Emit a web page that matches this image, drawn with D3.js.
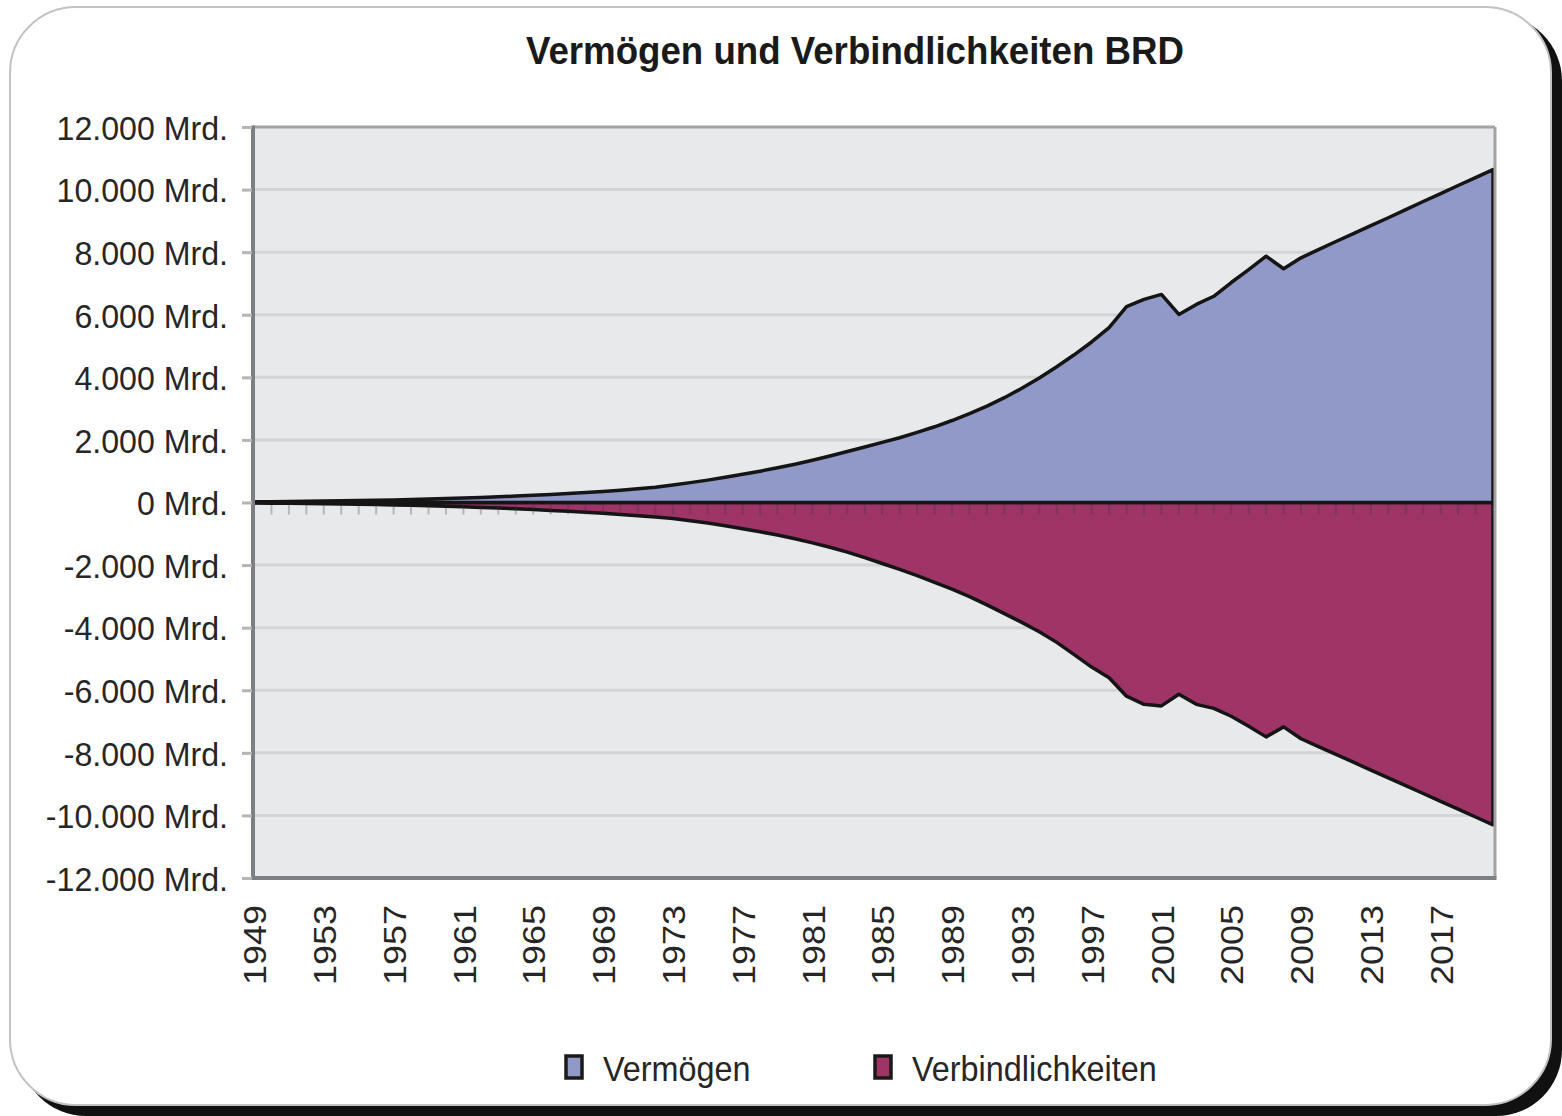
<!DOCTYPE html>
<html>
<head>
<meta charset="utf-8">
<script src="https://cdn.jsdelivr.net/npm/d3@7"></script>
<style>
  html, body { margin: 0; padding: 0; background: #ffffff; }
  svg { display: block; }
  text { font-family: "Liberation Sans", Arial, sans-serif; }
</style>
</head>
<body>
<svg id="chart" width="1562" height="1116"></svg>
<script>
// ---------------- DATA ----------------
const title = "Vermögen und Verbindlichkeiten BRD";
const seriesNames = ["Vermögen", "Verbindlichkeiten"];
const years = [1949,1950,1951,1952,1953,1954,1955,1956,1957,1958,1959,1960,1961,1962,1963,1964,1965,1966,1967,1968,1969,
  1970,1971,1972,1973,1974,1975,1976,1977,1978,1979,1980,1981,1982,1983,1984,1985,1986,1987,1988,1989,
  1990,1991,1992,1993,1994,1995,1996,1997,1998,1999,2000,2001,2002,2003,2004,2005,2006,2007,2008,2009,
  2010,2011,2012,2013,2014,2015,2016,2017,2018,2019,2020];
const vermoegen = [20,25,31,37,44,52,61,71,82,95,109,124,141,160,181,204,229,256,286,318,354,
  395,440,490,560,635,715,805,900,1000,1110,1225,1350,1485,1630,1775,1920,2070,2240,2420,2620,
  2840,3080,3350,3650,3980,4340,4720,5130,5590,6260,6490,6650,6010,6330,6590,7030,7440,7870,7470,7820,
  8080,8340,8590,8850,9100,9360,9620,9870,10130,10380,10640];
const verbindlichkeiten = [-18,-22,-27,-33,-40,-48,-57,-67,-78,-91,-105,-120,-137,-156,-177,-200,-225,-252,-281,-312,-345,
  -380,-420,-460,-515,-580,-655,-745,-840,-935,-1040,-1160,-1290,-1430,-1585,-1760,-1950,-2140,-2340,-2550,-2770,
  -3010,-3270,-3550,-3830,-4130,-4470,-4860,-5260,-5600,-6190,-6450,-6500,-6130,-6450,-6580,-6830,-7150,-7490,-7170,-7550,
  -7800,-8050,-8300,-8550,-8800,-9050,-9300,-9550,-9800,-10050,-10300];
const yTicks = [-12000,-10000,-8000,-6000,-4000,-2000,0,2000,4000,6000,8000,10000,12000];
const xLabelYears = [1949,1953,1957,1961,1965,1969,1973,1977,1981,1985,1989,1993,1997,2001,2005,2009,2013,2017];

// ---------------- LAYOUT ----------------
const plot = { left: 253, right: 1495, top: 127, bottom: 878 };
const colors = { verm: "#9199c8", verb: "#9e3566", bg: "#e8e9eb", grid: "#d3d4d6" };

const svg = d3.select("#chart");

// frame with shadow
svg.append("rect").attr("x", 20).attr("y", 15).attr("width", 1542).attr("height", 1101)
  .attr("rx", 66).attr("ry", 66).attr("fill", "#111");
svg.append("rect").attr("x", 10).attr("y", 7).attr("width", 1541).attr("height", 1098)
  .attr("rx", 66).attr("ry", 66).attr("fill", "#ffffff").attr("stroke", "#c2c2c2").attr("stroke-width", 2);

const x = d3.scalePoint().domain(years).range([plot.left + 1, plot.right - 2]);
const y = d3.scaleLinear().domain([-12000, 12000]).range([plot.bottom, plot.top]);

const de = d3.formatLocale({ decimal: ",", thousands: ".", grouping: [3], currency: ["", " €"], minus: "-" });
const fmt = de.format(",");

function squeeze(sel, k) {
  sel.each(function () {
    const n = this.getComputedTextLength();
    d3.select(this).attr("textLength", n * k).attr("lengthAdjust", "spacingAndGlyphs");
  });
}

// title
const t = svg.append("text").attr("x", 855).attr("y", 64).attr("text-anchor", "middle")
  .attr("font-size", 39).attr("font-weight", "bold").attr("fill", "#1a1a1a").text(title);
squeeze(t, 0.94);

// plot background
svg.append("rect").attr("x", plot.left).attr("y", plot.top)
  .attr("width", plot.right - plot.left).attr("height", plot.bottom - plot.top).attr("fill", colors.bg);

// gridlines
svg.append("g").selectAll("line").data(yTicks.filter(d => d !== 12000 && d !== -12000 && d !== 0)).join("line")
  .attr("x1", plot.left).attr("x2", plot.right)
  .attr("y1", d => y(d)).attr("y2", d => y(d))
  .attr("stroke", colors.grid).attr("stroke-width", 3);

// areas
const areaGen = d3.area().x((d, i) => x(years[i])).y0(y(0)).y1(d => y(d));

svg.append("path").attr("d", areaGen(verbindlichkeiten)).attr("fill", colors.verb)
  .attr("stroke", "#151515").attr("stroke-width", 3.5).attr("stroke-linejoin", "round");
svg.append("path").attr("d", areaGen(vermoegen)).attr("fill", colors.verm)
  .attr("stroke", "#151515").attr("stroke-width", 3.5).attr("stroke-linejoin", "round");

// zero axis line
svg.append("line").attr("x1", plot.left).attr("x2", plot.right).attr("y1", y(0)).attr("y2", y(0))
  .attr("stroke", "#151515").attr("stroke-width", 3);

// category ticks
svg.append("g").selectAll("line").data(years).join("line")
  .attr("x1", d => x(d)).attr("x2", d => x(d))
  .attr("y1", y(0) + 2).attr("y2", y(0) + 12)
  .attr("stroke", "rgba(50,50,55,0.28)").attr("stroke-width", 2);

// plot border
svg.append("line").attr("x1", plot.left).attr("x2", plot.right).attr("y1", plot.top).attr("y2", plot.top)
  .attr("stroke", "#a3a3a6").attr("stroke-width", 3);
svg.append("line").attr("x1", plot.right).attr("x2", plot.right).attr("y1", plot.top).attr("y2", plot.bottom)
  .attr("stroke", "#a3a3a6").attr("stroke-width", 3);
svg.append("line").attr("x1", plot.left).attr("x2", plot.right + 1.5).attr("y1", plot.bottom).attr("y2", plot.bottom)
  .attr("stroke", "#7e7f85").attr("stroke-width", 4);
svg.append("line").attr("x1", plot.left).attr("x2", plot.left).attr("y1", plot.top - 1.5).attr("y2", plot.bottom + 2)
  .attr("stroke", "#7e7f85").attr("stroke-width", 4);

// y axis
const yAxis = d3.axisLeft(y).tickValues(yTicks).tickSize(10).tickPadding(14)
  .tickFormat(d => fmt(d) + " Mrd.");
const gy = svg.append("g").attr("transform", `translate(${plot.left - 1},0)`).call(yAxis);
gy.select(".domain").remove();
gy.selectAll(".tick line").attr("stroke", "#b5b5b8").attr("stroke-width", 3);
gy.selectAll(".tick text").attr("font-size", 34).attr("fill", "#262626")
  .attr("font-family", "'Liberation Sans', Arial, sans-serif").attr("dy", "0.36em");
squeeze(gy.selectAll(".tick text"), 0.945);

// x labels (rotated)
const gx = svg.append("g");
const xl = gx.selectAll("text").data(xLabelYears).join("text")
  .attr("transform", d => `translate(${x(d) + 1},905) rotate(-90)`)
  .attr("text-anchor", "end").attr("dy", "0.36em")
  .attr("font-size", 31).attr("fill", "#262626").text(d => d);
squeeze(xl, 1.16);

// legend
const legendItems = [
  { name: seriesNames[0], color: colors.verm, x: 566, tx: 603 },
  { name: seriesNames[1], color: colors.verb, x: 875, tx: 912 }
];
const lg = svg.append("g");
legendItems.forEach(it => {
  lg.append("rect").attr("x", it.x).attr("y", 1056).attr("width", 16).attr("height", 22)
    .attr("fill", it.color).attr("stroke", "#1a1a1a").attr("stroke-width", 3.5);
  const tt = lg.append("text").attr("x", it.tx).attr("y", 1068).attr("dy", "0.36em")
    .attr("font-size", 35).attr("fill", "#262626").text(it.name);
  squeeze(tt, 0.925);
});
</script>
</body>
</html>
